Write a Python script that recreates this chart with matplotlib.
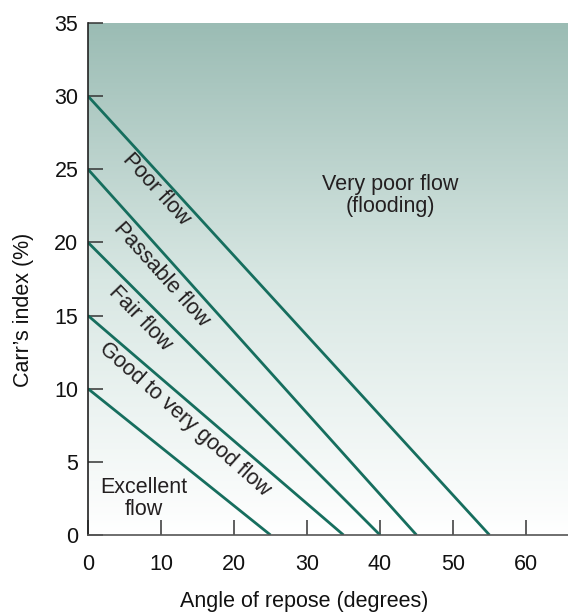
import numpy as np
import matplotlib
matplotlib.use("Agg")
import matplotlib.pyplot as plt
from matplotlib.colors import LinearSegmentedColormap

plt.rcParams['font.family'] = ['Liberation Sans', 'DejaVu Sans']

# Boundary lines: Carr's index intercept (y at x=0) and angle of repose intercept (x at y=0)
carr_intercepts = [10, 15, 20, 25, 30]
angle_intercepts = [25, 35, 40, 45, 55]

x_ticks = [0, 10, 20, 30, 40, 50, 60]
y_ticks = [0, 5, 10, 15, 20, 25, 30, 35]

region_labels = ["Excellent\nflow", "Good to very good flow", "Fair flow",
                 "Passable flow", "Poor flow", "Very poor flow\n(flooding)"]
label_x = [7.7, 13.3, 7.2, 10.1, 9.3, 41.4]
label_y = [2.5, 7.9, 14.8, 17.8, 23.6, 23.2]
label_rot = [0, -41.5, -46, -48, -47.5, 0]

line_color = "#166e5e"
fs = 15.5

fig = plt.figure(figsize=(5.68, 6.14), dpi=100)
ax = fig.add_axes([88/568, 1 - 535/614, 1 - 88/568, (535 - 23)/614])

xmax = (568 - 88) / 7.3
ax.set_xlim(0, xmax)
ax.set_ylim(0, 35)

cmap = LinearSegmentedColormap.from_list("bg", ["#ffffff", "#d8e7e3", "#9bbcb4"])
grad = np.linspace(0, 1, 256).reshape(-1, 1)
ax.imshow(grad, extent=[0, xmax, 0, 35], origin="lower", cmap=cmap,
          aspect="auto", zorder=0)

for c, a in zip(carr_intercepts, angle_intercepts):
    ax.plot([0, a], [c, 0], color=line_color, lw=2.0, solid_capstyle="butt", zorder=2)

for t, x, y, r in zip(region_labels, label_x, label_y, label_rot):
    ax.text(x, y, t, rotation=r, ha="center", va="center", fontsize=fs,
            color="#231f20", rotation_mode="anchor", linespacing=1.1, zorder=3)

ax.set_xticks(x_ticks)
ax.set_yticks(y_ticks)
ax.tick_params(axis="both", direction="in", length=10.5, width=1.1,
               color="#333333", labelsize=fs, labelcolor="#111111")
ax.tick_params(axis="x", pad=14)
ax.tick_params(axis="y", pad=7)

for s in ["top", "right"]:
    ax.spines[s].set_visible(False)
ax.spines["left"].set_color("#222222")
ax.spines["bottom"].set_color("#555555")
ax.spines["left"].set_linewidth(1.2)
ax.spines["bottom"].set_linewidth(1.2)

ax.set_xlabel("Angle of repose (degrees)", fontsize=fs, color="#111111")
ax.set_ylabel("Carr\u2019s index (%)", fontsize=fs, color="#111111")
ax.xaxis.set_label_coords(0.45, -0.11)
ax.yaxis.set_label_coords(-0.112, 0.44)

fig.savefig("out.png", dpi=100)
